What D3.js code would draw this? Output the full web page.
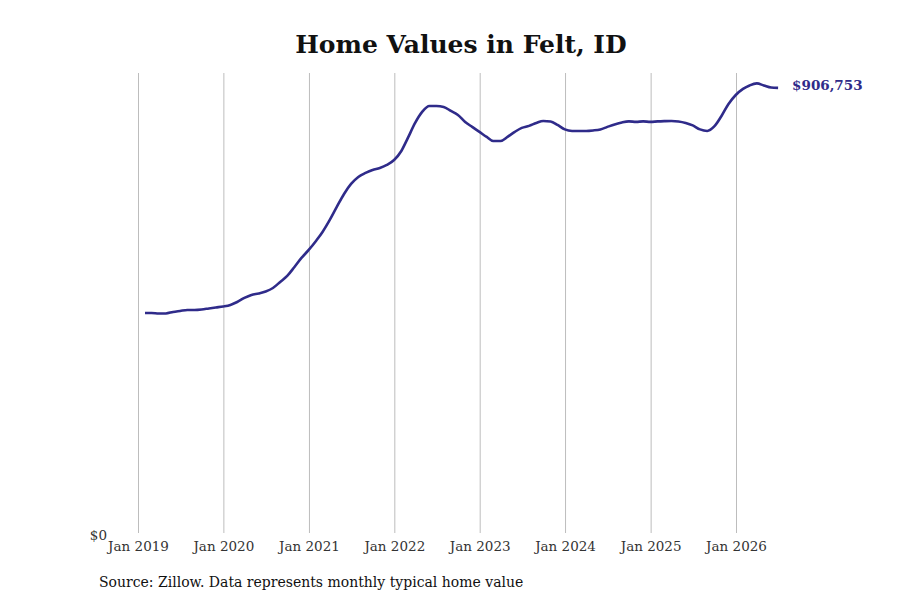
<!DOCTYPE html>
<html>
<head>
<meta charset="utf-8">
<script src="https://cdn.jsdelivr.net/npm/d3@7"></script>
<style>
  body { margin: 0; background: #fff; }
  svg { display: block; font-family: "DejaVu Serif", serif; }
</style>
</head>
<body>
<svg id="chart" width="900" height="600"></svg>
<script>
// monthly typical home value, month-end, Jan 2019 .. Jun 2026
const startMonth = [2019, 0];
const values = [
  450300, 450300, 449300, 449300, 452400, 454400, 456400, 456400, 457400, 459500, 461500, 463500,
  466600, 472600, 480800, 486800, 489900, 493900, 501000, 513200, 525400, 543600, 561900, 578100,
  596400, 614600, 639000, 665400, 691700, 712000, 726200, 734300, 740400, 744400, 750500, 760600,
  778900, 805300, 835700, 858000, 870200, 870200, 868200, 860100, 852000, 837800, 827700, 817600,
  807400, 799200, 799200, 807400, 817600, 825700, 829800, 835700, 839800, 838800, 831700, 822600,
  819500, 819500, 819500, 820500, 822600, 827700, 832700, 836700, 838800, 837800, 838800, 837800,
  838800, 839400, 839800, 838800, 835700, 830700, 822600, 819500, 828600, 849900, 874200, 892400,
  904700, 911800, 915900, 911800, 907500, 906753
];
const tickYears = [2019, 2020, 2021, 2022, 2023, 2024, 2025, 2026];
const title = "Home Values in Felt, ID";
const source = "Source: Zillow. Data represents monthly typical home value";

const lineColor = "#2f2b8a";

// month-end dates
const data = values.map((v, i) => ({
  date: new Date(startMonth[0], startMonth[1] + i + 1, 0),
  value: v
}));

const svg = d3.select("#chart");

const x = d3.scaleTime()
  .domain([new Date(2019, 0, 1), new Date(2026, 0, 1)])
  .range([138, 736]);

const y = d3.scaleLinear()
  .domain([0, 937000])
  .range([535, 73]);

// vertical gridlines / x axis
const xAxis = d3.axisBottom(x)
  .tickValues(tickYears.map(yr => new Date(yr, 0, 1)))
  .tickFormat(d3.timeFormat("Jan %Y"))
  .tickSize(-(535 - 73))
  .tickPadding(6);

const gx = svg.append("g")
  .attr("transform", "translate(0,535)")
  .call(xAxis);
gx.select(".domain").remove();
gx.selectAll(".tick line").attr("stroke", "#bdbdbd").attr("y2", -(535 - 73)).attr("y1", -2);
gx.selectAll(".tick text")
  .attr("fill", "#333")
  .style("font-family", "DejaVu Serif, serif")
  .style("font-size", "13.5px");

// y axis: only $0
const yAxis = d3.axisLeft(y)
  .tickValues([0])
  .tickFormat(d => "$" + d3.format(",")(d))
  .tickSize(0)
  .tickPadding(0);
const gy = svg.append("g")
  .attr("transform", "translate(107,0)")
  .call(yAxis);
gy.select(".domain").remove();
gy.selectAll(".tick text")
  .attr("fill", "#333")
  .style("font-family", "DejaVu Serif, serif")
  .style("font-size", "13.5px");

// line
const line = d3.line()
  .x(d => x(d.date))
  .y(d => y(d.value))
  .curve(d3.curveMonotoneX);

svg.append("path")
  .datum(data)
  .attr("fill", "none")
  .attr("stroke", lineColor)
  .attr("stroke-width", 2.6)
  .attr("stroke-linejoin", "round")
  .attr("d", line);

// end label
const last = data[data.length - 1];
svg.append("text")
  .attr("x", x(last.date) + 14)
  .attr("y", y(last.value) - 3)
  .attr("dy", "0.35em")
  .attr("fill", lineColor)
  .style("font-weight", "bold")
  .style("font-size", "13.5px")
  .text("$" + d3.format(",")(last.value));

// title
svg.append("text")
  .attr("x", 461)
  .attr("y", 53)
  .attr("text-anchor", "middle")
  .style("font-weight", "bold")
  .style("font-size", "25px")
  .attr("fill", "#111")
  .text(title);

// source
svg.append("text")
  .attr("x", 99)
  .attr("y", 587)
  .style("font-size", "14px")
  .attr("fill", "#111")
  .text(source);
</script>
</body>
</html>
